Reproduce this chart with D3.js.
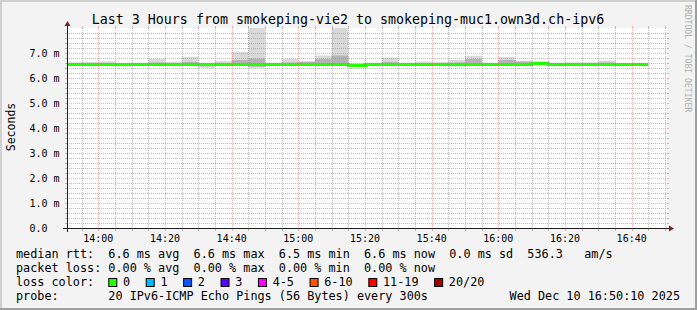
<!DOCTYPE html>
<html lang="en">
<head>
  <meta charset="utf-8">
  <title>smokeping</title>
  <script src="https://cdn.jsdelivr.net/npm/d3@7/dist/d3.min.js"></script>
  <style>
    body { margin: 0; }
    text { font-family: "DejaVu Sans Mono", monospace; white-space: pre; }
  </style>
</head>
<body>
  <svg width="697" height="310" id="mainsvg"></svg>
  <script>
    // step end times (each bar covers the 5 minutes before it)
    const steps = ['13:55', '14:00', '14:05', '14:10', '14:15', '14:20', '14:25', '14:30', '14:35', '14:40',
      '14:45', '14:50', '14:55', '15:00', '15:05', '15:10', '15:15', '15:20', '15:25', '15:30',
      '15:35', '15:40', '15:45', '15:50', '15:55', '16:00', '16:05', '16:10', '16:15', '16:20',
      '16:25', '16:30', '16:35', '16:40', '16:45'];
    // values in ms
    const median = [6.56, 6.57, 6.56, 6.55, 6.56, 6.57, 6.56, 6.57, 6.55, 6.57,
      6.57, 6.56, 6.56, 6.57, 6.58, 6.58, 6.57, 6.53, 6.56, 6.57,
      6.56, 6.57, 6.56, 6.56, 6.58, 6.56, 6.57, 6.58, 6.62, 6.57,
      6.57, 6.56, 6.57, 6.56, 6.57];
    const pingMax = [6.63, 6.64, 6.67, 6.60, 6.61, 6.76, 6.65, 6.85, 6.61, 6.68,
      7.04, 9.50, 6.61, 6.76, 6.67, 6.90, 9.50, 6.59, 6.61, 6.82,
      6.61, 6.66, 6.64, 6.72, 6.89, 6.61, 6.84, 6.69, 6.66, 6.61,
      6.63, 6.63, 6.70, 6.60, 6.61];
    const pingMin = [6.49, 6.46, 6.52, 6.45, 6.52, 6.53, 6.48, 6.53, 6.41, 6.51,
      6.52, 6.41, 6.53, 6.50, 6.53, 6.53, 6.50, 6.46, 6.53, 6.53,
      6.53, 6.53, 6.50, 6.45, 6.53, 6.53, 6.53, 6.52, 6.56, 6.53,
      6.53, 6.52, 6.53, 6.46, 6.53];
    const innerHi = [6.59, 6.60, 6.60, 6.58, 6.58, 6.62, 6.60, 6.64, 6.58, 6.60,
      6.72, 6.78, 6.58, 6.62, 6.65, 6.76, 6.90, 6.56, 6.58, 6.64,
      6.58, 6.60, 6.60, 6.62, 6.76, 6.58, 6.72, 6.66, 6.65, 6.59,
      6.60, 6.59, 6.62, 6.58, 6.59];
    const innerLo = [6.54, 6.52, 6.54, 6.50, 6.54, 6.55, 6.52, 6.55, 6.47, 6.54,
      6.54, 6.45, 6.54, 6.53, 6.55, 6.55, 6.53, 6.48, 6.54, 6.55,
      6.54, 6.55, 6.53, 6.48, 6.55, 6.54, 6.55, 6.54, 6.58, 6.54,
      6.54, 6.54, 6.55, 6.49, 6.55];
    const yTicks = [0, 1, 2, 3, 4, 5, 6, 7];
    const lossLabels = ['0', '1', '2', '3', '4-5', '6-10', '11-19', '20/20'];
    const lossColors = ['#26ff00', '#00b8ff', '#0059ff', '#5e00ff', '#ff00ff', '#ff5500', '#ff0000', '#a10000'];
    const legendLines = [
      'median rtt:  6.6 ms avg  6.6 ms max  6.5 ms min  6.6 ms now  0.0 ms sd  536.3   am/s',
      'packet loss: 0.00 % avg  0.00 % max  0.00 % min  0.00 % now',
      'loss color:',
      'probe:       20 IPv6-ICMP Echo Pings (56 Bytes) every 300s'
    ];

    const svg = d3.select('#mainsvg');
    const W = +svg.attr('width'), H = +svg.attr('height');
    const X0 = 67, X1 = 667, Y0 = 228, Y1 = 28;
    const day = (h, m, s = 0) => new Date(2025, 11, 10, h, m, s);
    const parse = t => { const p = t.split(':'); return day(+p[0], +p[1]); };

    const x = d3.scaleTime().domain([day(13, 50, 36), day(16, 50, 36)]).range([X0, X1]);
    const y = d3.scaleLinear().domain([0, 8]).range([Y0, Y1]);
    const px = v => Math.round(v) + 0.5;

    // background + shading
    svg.append('rect').attr('width', W).attr('height', H).attr('fill', '#f3f3f3');
    svg.append('path').attr('d', `M0,${H} V0 H${W} V2 H2 V${H - 2} H0Z`).attr('fill', '#cfcfcf');
    svg.append('path').attr('d', `M${W},0 V${H} H0 V${H - 2} H${W - 2} V0Z`).attr('fill', '#9e9e9e');
    svg.append('rect').attr('x', X0).attr('y', Y1).attr('width', X1 - X0).attr('height', Y0 - Y1).attr('fill', '#fff');

    svg.append('clipPath').attr('id', 'plotclip').append('rect')
      .attr('x', X0).attr('y', Y1).attr('width', X1 - X0).attr('height', Y0 - Y1);

    // smoke
    const plot = svg.append('g').attr('clip-path', 'url(#plotclip)');
    const bars = steps.map((t, i) => ({ end: parse(t), start: d3.timeMinute.offset(parse(t), -5), i }));
    plot.selectAll('rect.outer').data(bars).join('rect').attr('class', 'outer')
      .attr('x', d => x(d.start)).attr('width', d => x(d.end) - x(d.start))
      .attr('y', d => y(pingMax[d.i])).attr('height', d => y(pingMin[d.i]) - y(pingMax[d.i]))
      .attr('fill', '#d9d9d9');
    plot.selectAll('rect.inner').data(bars).join('rect').attr('class', 'inner')
      .attr('x', d => x(d.start)).attr('width', d => x(d.end) - x(d.start))
      .attr('y', d => y(innerHi[d.i])).attr('height', d => y(innerLo[d.i]) - y(innerHi[d.i]))
      .attr('fill', '#b4b4b4');

    // grid
    const grid = svg.append('g').attr('shape-rendering', 'crispEdges');
    const minorY = d3.range(1, 40).map(k => k / 5).filter(v => Math.abs(v - Math.round(v)) > 1e-6);
    const majorX = x.ticks(d3.timeMinute.every(20));
    const minorX = x.ticks(d3.timeMinute.every(5)).filter(t => t.getMinutes() % 20 !== 0);
    const gridCol = 'rgba(143,143,143,0.6)', mgridCol = 'rgba(222,79,79,0.42)';
    function hline(v, col) {
      const yy = px(y(v));
      grid.append('line').attr('x1', X0).attr('x2', X1).attr('y1', yy).attr('y2', yy)
        .attr('stroke', col).attr('stroke-dasharray', '1,1');
      grid.append('line').attr('x1', X0 - 2).attr('x2', X0).attr('y1', yy).attr('y2', yy).attr('stroke', col);
      grid.append('line').attr('x1', X1).attr('x2', X1 + 2).attr('y1', yy).attr('y2', yy).attr('stroke', col);
    }
    function vline(t, col) {
      const xx = px(x(t));
      grid.append('line').attr('x1', xx).attr('x2', xx).attr('y1', Y1).attr('y2', Y0)
        .attr('stroke', col).attr('stroke-dasharray', '1,1');
      grid.append('line').attr('x1', xx).attr('x2', xx).attr('y1', Y1 - 2).attr('y2', Y1).attr('stroke', col);
      grid.append('line').attr('x1', xx).attr('x2', xx).attr('y1', Y0).attr('y2', Y0 + 3).attr('stroke', col);
    }
    minorY.forEach(v => hline(v, gridCol));
    minorX.forEach(t => vline(t, gridCol));
    yTicks.filter(v => v > 0).forEach(v => hline(v, mgridCol));
    majorX.forEach(t => vline(t, mgridCol));

    // median line
    const medPts = bars.map(d => ({ t: d.start, v: median[d.i] }));
    medPts.push({ t: bars[bars.length - 1].end, v: median[median.length - 1] });
    plot.append('path').datum(medPts)
      .attr('d', d3.line().x(d => x(d.t)).y(d => Math.round(y(d.v)) + 0.5).curve(d3.curveStepAfter))
      .attr('fill', 'none').attr('stroke', lossColors[0]).attr('stroke-width', 3)
      .attr('shape-rendering', 'crispEdges');

    // axes
    const axisCol = '#1f1f1f', arrowCol = '#801f1f';
    svg.append('line').attr('x1', X0 - 4).attr('x2', X1 + 4).attr('y1', Y0 + 0.5).attr('y2', Y0 + 0.5)
      .attr('stroke', axisCol).attr('shape-rendering', 'crispEdges');
    svg.append('line').attr('x1', X0 + 0.5).attr('x2', X0 + 0.5).attr('y1', Y0 + 4).attr('y2', Y1 - 4)
      .attr('stroke', axisCol).attr('shape-rendering', 'crispEdges');
    svg.append('polygon').attr('points', `${X1 + 2},${Y0 - 2.5} ${X1 + 2},${Y0 + 3.5} ${X1 + 7},${Y0 + 0.5}`).attr('fill', arrowCol);
    svg.append('polygon').attr('points', `${X0 - 2.5},${Y1 - 2} ${X0 + 3.5},${Y1 - 2} ${X0 + 0.5},${Y1 - 7}`).attr('fill', arrowCol);

    // tick labels
    svg.selectAll('text.xt').data(majorX).join('text').attr('class', 'xt')
      .attr('x', d => x(d)).attr('y', 241.5).attr('text-anchor', 'middle')
      .attr('font-size', '10px').attr('fill', '#000').text(d3.timeFormat('%H:%M'));
    svg.selectAll('text.yt').data(yTicks).join('text').attr('class', 'yt')
      .attr('x', 29.5).attr('y', d => y(d) + 3.5)
      .attr('font-size', '10px').attr('fill', '#000').text(d => d === 0 ? '0.0' : d.toFixed(1) + ' m');

    // titles
    svg.append('text').attr('x', 348).attr('y', 24).attr('text-anchor', 'middle')
      .attr('font-size', '13.3px').attr('fill', '#000')
      .text('Last 3 Hours from smokeping-vie2 to smokeping-muc1.own3d.ch-ipv6');
    svg.append('text').attr('transform', 'translate(15,127) rotate(-90)').attr('text-anchor', 'middle')
      .attr('font-size', '11.5px').attr('fill', '#000').text('Seconds');
    svg.append('text').attr('transform', 'translate(685,5) rotate(90)')
      .attr('font-size', '8.1px').attr('fill', '#b0b0b0').text('RRDTOOL / TOBI OETIKER');

    // legend
    const lg = svg.append('g').attr('font-size', '11.8px').attr('fill', '#000');
    legendLines.forEach((s, k) => lg.append('text').attr('x', 16).attr('y', 258 + k * 14).text(s));
    let lx = 108.3;
    lossLabels.forEach((lab, k) => {
      lg.append('rect').attr('x', lx + 0.5).attr('y', 278.5).attr('width', 8).attr('height', 8)
        .attr('fill', lossColors[k]).attr('stroke', '#000').attr('stroke-width', 1);
      lg.append('text').attr('x', lx + 14.7).attr('y', 286).text(lab);
      lx += 14.7 + lab.length * 7.11 + 15.6;
    });
    lg.append('text').attr('x', 680).attr('y', 300).attr('text-anchor', 'end').text('Wed Dec 10 16:50:10 2025');
  </script>
</body>
</html>
